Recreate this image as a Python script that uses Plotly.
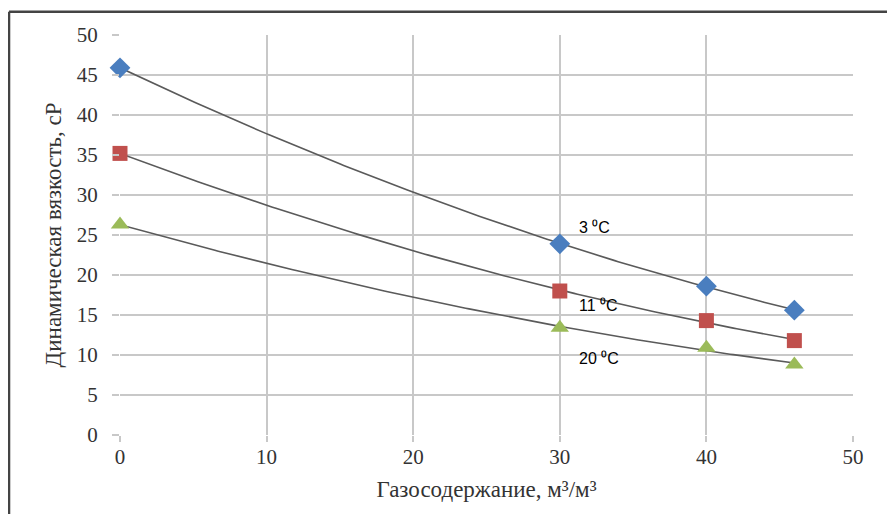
import numpy as np
import plotly.graph_objects as go

gas = [0, 30, 40, 46]
visc_3 = [45.9, 23.9, 18.6, 15.6]
visc_11 = [35.2, 18.0, 14.3, 11.8]
visc_20 = [26.3, 13.4, 10.9, 8.8]
labels = ["3 ⁰C", "11 ⁰C", "20 ⁰C"]
label_pos = [(31.2, 25.9), (31.2, 16.2), (31.2, 9.6)]

series = [
    (visc_3, "#4a7ebf", "diamond", 16),
    (visc_11, "#c0504d", "square", 15),
    (visc_20, "#9bbb59", "triangle-up", 16),
]

SERIF = "Liberation Serif"

fig = go.Figure()
xs = np.linspace(min(gas), max(gas), 200)
for vals, col, sym, size in series:
    coef = np.polyfit(gas, vals, 2)
    fig.add_trace(go.Scatter(x=xs, y=np.polyval(coef, xs), mode="lines",
                             line=dict(color="#5a5a5a", width=1.6),
                             showlegend=False, hoverinfo="skip", cliponaxis=False))
    fig.add_trace(go.Scatter(x=gas, y=vals, mode="markers", cliponaxis=False,
                             marker=dict(symbol=sym, color=col, size=size,
                                         line=dict(width=0)),
                             showlegend=False))

for t, (ax, ay) in zip(labels, label_pos):
    fig.add_annotation(x=ax, y=ay, text=t, showarrow=False, xanchor="left",
                       font=dict(family="Liberation Sans", size=16, color="black"))

axis_common = dict(showgrid=True, gridcolor="#c8c8c8", gridwidth=1.5,
                   zeroline=False, showline=False, ticks="outside", automargin=False,
                   tickcolor="#c8c8c8", tickwidth=1.5,
                   tickfont=dict(family=SERIF, size=21, color="#333"))

fig.update_xaxes(range=[0, 50], dtick=10, ticklen=6, ticklabelstandoff=-3, **axis_common,
                 title=dict(text="Газосодержание, м³/м³", standoff=12,
                            font=dict(family=SERIF, size=23, color="#333")))
fig.update_yaxes(range=[0, 50], dtick=5, ticklen=7, ticklabelstandoff=10, **axis_common,
                 title=dict(text="Динамическая вязкость, сР", standoff=8,
                            font=dict(family=SERIF, size=23, color="#333")))

fig.add_shape(type="line", xref="paper", yref="paper", x0=-0.1514, x1=1.1, y0=1.058, y1=1.058,
              line=dict(color="#444", width=2.5))
fig.add_shape(type="line", xref="paper", yref="paper", x0=-0.1514, x1=-0.1514, y0=1.058, y1=-0.3,
              line=dict(color="#444", width=2.5))

fig.update_layout(width=887, height=506, plot_bgcolor="white", paper_bgcolor="white",
                  margin=dict(l=112, r=42, t=27, b=79))

fig.write_html("out.html")
